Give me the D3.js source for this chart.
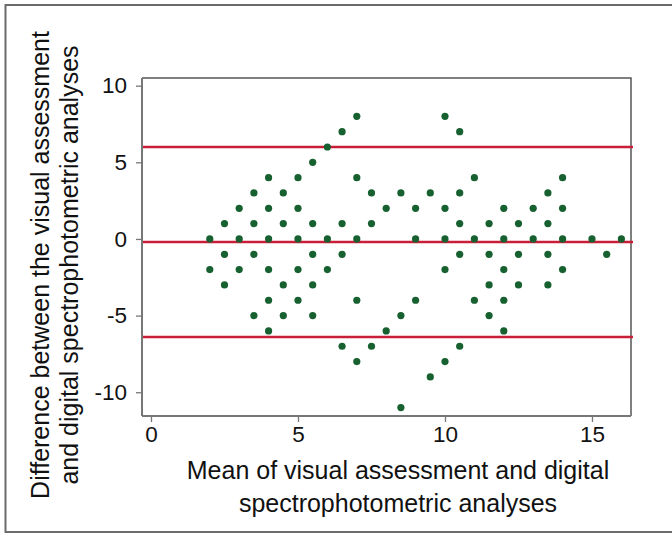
<!DOCTYPE html>
<html>
<head>
<meta charset="utf-8">
<script src="https://cdn.jsdelivr.net/npm/d3@7"></script>
<style>
  html, body { margin: 0; padding: 0; background: #fff; }
  svg { display: block; }
  text { font-family: "Liberation Sans", Arial, Helvetica, sans-serif; fill: #111; }
</style>
</head>
<body>
<svg id="chart" width="672" height="533"></svg>
<script>
// Mean of the two measurements (x) and difference (y) for each observation
const meanValues = [
  2, 2,
  2.5, 2.5, 2.5,
  3, 3, 3,
  3.5, 3.5, 3.5, 3.5,
  4, 4, 4, 4, 4, 4,
  4.5, 4.5, 4.5, 4.5,
  5, 5, 5, 5, 5,
  5.5, 5.5, 5.5, 5.5, 5.5,
  6, 6, 6,
  6.5, 6.5, 6.5, 6.5,
  7, 7, 7, 7, 7,
  7.5, 7.5, 7.5,
  8, 8,
  8.5, 8.5, 8.5,
  9, 9, 9,
  9.5, 9.5,
  10, 10, 10, 10, 10,
  10.5, 10.5, 10.5, 10.5, 10.5,
  11, 11, 11,
  11.5, 11.5, 11.5, 11.5,
  12, 12, 12, 12, 12,
  12.5, 12.5, 12.5,
  13, 13,
  13.5, 13.5, 13.5, 13.5,
  14, 14, 14, 14,
  15, 15.5, 16
];
const diffValues = [
  0, -2,
  1, -1, -3,
  0, 2, -2,
  1, 3, -1, -5,
  0, 2, 4, -2, -4, -6,
  1, 3, -3, -5,
  0, 2, 4, -2, -4,
  1, 5, -1, -3, -5,
  6, 0, -2,
  7, 1, -1, -7,
  8, 4, 0, -4, -8,
  3, 1, -7,
  2, -6,
  3, -5, -11,
  2, 0, -4,
  3, -9,
  8, 2, 0, -2, -8,
  7, 3, 1, -1, -7,
  4, 0, -4,
  1, -1, -3, -5,
  2, 0, -2, -4, -6,
  1, -1, -3,
  2, 0,
  3, 1, -1, -3,
  4, 2, 0, -2,
  0, -1, 0
];
// Bias and limits of agreement
const agreementLines = [6.0, -0.2, -6.4];
const xTicks = [0, 5, 10, 15];
const yTicks = [-10, -5, 0, 5, 10];
const xLabelLines = ["Mean of visual assessment and digital", "spectrophotometric analyses"];
const yLabelLines = ["Difference between the visual assessment", "and digital spectrophotometric analyses"];

(function () {
const svg = d3.select("#chart");

// Outer figure frame
svg.append("rect")
  .attr("x", 5.5).attr("y", 5)
  .attr("width", 700).attr("height", 527)
  .attr("fill", "none").attr("stroke", "#6b6b6b").attr("stroke-width", 2);

const pL = 142, pR = 631, pT = 78, pB = 416;
const x = d3.scaleLinear().domain([-0.306, 16.327]).range([pL, pR]);
const y = d3.scaleLinear().domain([-11.55, 10.5]).range([pB, pT]);

// Plot frame (top and right)
svg.append("path")
  .attr("d", `M${pL},${pT}H${pR}V${pB}`)
  .attr("fill", "none").attr("stroke", "#555").attr("stroke-width", 1.5);

// Axes
const xAxis = svg.append("g")
  .attr("transform", `translate(0,${pB})`)
  .call(d3.axisBottom(x).tickValues(xTicks).tickSize(6).tickPadding(4).tickFormat(d3.format("d")));
const yAxis = svg.append("g")
  .attr("transform", `translate(${pL},0)`)
  .call(d3.axisLeft(y).tickValues(yTicks).tickSize(6).tickPadding(9).tickFormat(d => d < 0 ? "-" + Math.abs(d) : d));

[xAxis, yAxis].forEach(g => {
  g.select(".domain").attr("stroke", "#777").attr("stroke-width", 2);
  g.selectAll(".tick line").attr("stroke", "#777").attr("stroke-width", 1.3);
  g.selectAll(".tick text")
    .attr("font-family", "'Liberation Sans', Arial, sans-serif")
    .attr("font-size", 22.5).attr("fill", "#111");
});
xAxis.select(".domain").attr("d", `M${pL},0H${pR}`);
yAxis.select(".domain").attr("d", `M0,${pT}V${pB}`);

// Agreement lines
svg.append("g").selectAll("line")
  .data(agreementLines)
  .join("line")
  .attr("x1", pL + 1).attr("x2", pR + 2)
  .attr("y1", d => y(d)).attr("y2", d => y(d))
  .attr("stroke", "#c91e3a").attr("stroke-width", 2.6);

// Points
const points = meanValues.map((m, i) => ({ m, d: diffValues[i] }));
svg.append("g").selectAll("circle")
  .data(points)
  .join("circle")
  .attr("cx", p => x(p.m)).attr("cy", p => y(p.d))
  .attr("r", 3.6)
  .attr("fill", "#17602f");

// X label
svg.append("text")
  .attr("x", 398).attr("y", 479)
  .attr("text-anchor", "middle").attr("font-size", 25)
  .selectAll("tspan").data(xLabelLines).join("tspan")
  .attr("x", 398).attr("dy", (d, i) => i === 0 ? 0 : 33)
  .text(d => d);

// Y label
svg.append("text")
  .attr("transform", "translate(48.5,265) rotate(-90)")
  .attr("text-anchor", "middle").attr("font-size", 25)
  .selectAll("tspan").data(yLabelLines).join("tspan")
  .attr("x", 0).attr("dy", (d, i) => i === 0 ? 0 : 29)
  .text(d => d);
})();
</script>
</body>
</html>
